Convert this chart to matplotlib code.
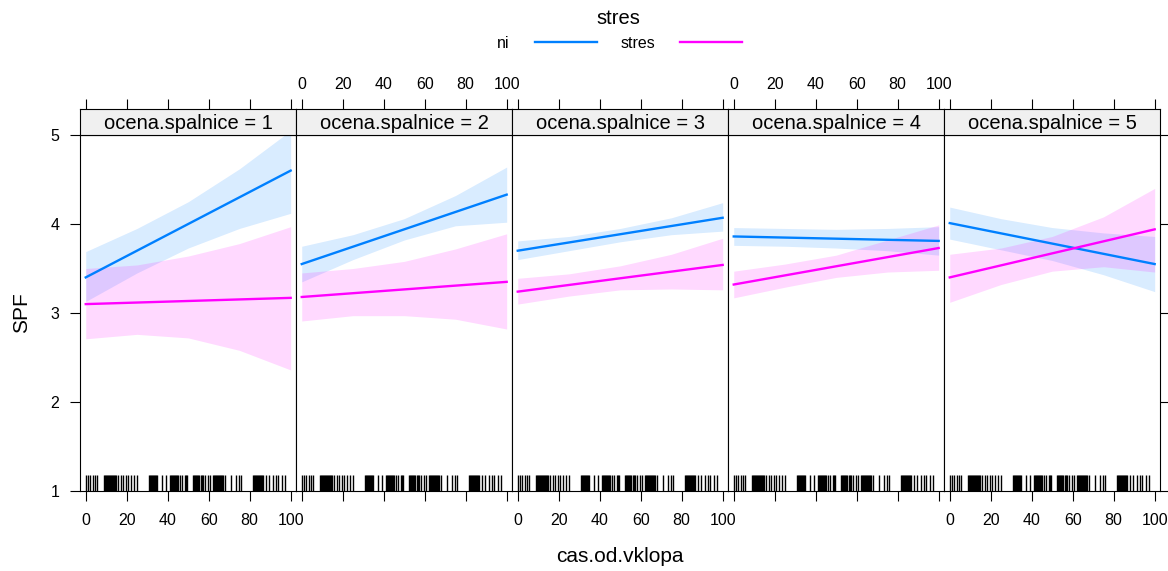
import matplotlib
matplotlib.use("Agg")
import matplotlib.pyplot as plt
from matplotlib.lines import Line2D

plt.rcParams['font.family'] = ['Liberation Sans', 'DejaVu Sans']

# effect of cas.od.vklopa on SPF, by ocena.spalnice and stres
panels = ["ocena.spalnice = 1", "ocena.spalnice = 2", "ocena.spalnice = 3",
          "ocena.spalnice = 4", "ocena.spalnice = 5"]
band_x = [0, 25, 50, 75, 100]
line_x = [0, 100]

ni_fit = [[3.40, 4.60], [3.55, 4.33], [3.70, 4.07], [3.86, 3.81], [4.01, 3.55]]
ni_lo = [[3.13, 3.45, 3.73, 3.95, 4.12],
         [3.35, 3.60, 3.82, 3.98, 4.02],
         [3.60, 3.70, 3.80, 3.88, 3.92],
         [3.76, 3.75, 3.73, 3.70, 3.65],
         [3.83, 3.71, 3.59, 3.43, 3.24]]
ni_hi = [[3.69, 3.95, 4.25, 4.62, 5.05],
         [3.75, 3.88, 4.06, 4.32, 4.64],
         [3.81, 3.86, 3.95, 4.07, 4.24],
         [3.96, 3.95, 3.94, 3.95, 3.97],
         [4.19, 4.06, 3.96, 3.90, 3.86]]

stres_fit = [[3.10, 3.17], [3.18, 3.35], [3.24, 3.54], [3.32, 3.73], [3.40, 3.94]]
stres_lo = [[2.71, 2.76, 2.72, 2.58, 2.36],
            [2.91, 2.97, 2.97, 2.93, 2.82],
            [3.10, 3.19, 3.26, 3.27, 3.26],
            [3.17, 3.29, 3.40, 3.46, 3.48],
            [3.12, 3.32, 3.47, 3.52, 3.46]]
stres_hi = [[3.50, 3.54, 3.64, 3.78, 3.97],
            [3.45, 3.50, 3.58, 3.72, 3.89],
            [3.39, 3.44, 3.53, 3.66, 3.84],
            [3.47, 3.55, 3.65, 3.82, 3.99],
            [3.66, 3.73, 3.86, 4.08, 4.40]]

# rug of observed cas.od.vklopa (same in every panel)
rug = [0, 1, 2.3, 3.3, 4.4, 5.5, 9, 9.5, 10, 10.5, 11, 11.5, 12, 12.5, 13, 13.5,
       14, 14.5, 15, 15.5, 17, 18.2, 19.5, 20.7, 22.1, 23.4, 25.2, 31, 31.5, 32,
       32.5, 33, 33.5, 34, 34.5, 35, 37, 39, 41, 41.5, 42, 42.5, 43, 43.5, 44,
       44.5, 45, 45.8, 47.2, 48.3, 49, 49.6, 52.3, 53, 53.5, 54, 54.5, 55, 55.5,
       56, 56.5, 57.2, 58, 59.7, 60.8, 62.1, 62.5, 63, 63.5, 64, 64.5, 65, 65.5,
       66, 66.5, 67, 68.1, 71, 73.5, 74.6, 75.9, 81.6, 82, 82.5, 83, 83.5, 84,
       84.5, 85, 85.5, 86, 86.5, 87.8, 89.4, 91.4, 92.7, 93.8, 95.9, 97.1]

xticks = [0, 20, 40, 60, 80, 100]
yticks = [1, 2, 3, 4, 5]

blue = "#0080ff"
pink = "#ff00ff"

W, H = 1168, 571
fig = plt.figure(figsize=(W / 100, H / 100), dpi=100)


def box(x0, y0, x1, y1):
    # pixel box -> figure rect
    return [x0 / W, 1 - y1 / H, (x1 - x0) / W, (y1 - y0) / H]


left, pw = 80, 216
top, bottom, strip_top = 135, 491, 109

for i in range(5):
    x0 = left + i * pw
    ax = fig.add_axes(box(x0, top, x0 + pw, bottom))
    ax.fill_between(band_x, ni_lo[i], ni_hi[i], color=blue, alpha=0.15, lw=0)
    ax.fill_between(band_x, stres_lo[i], stres_hi[i], color=pink, alpha=0.15, lw=0)
    ax.plot(line_x, ni_fit[i], color=blue, lw=1.7)
    ax.plot(line_x, stres_fit[i], color=pink, lw=1.7)
    ax.vlines(rug, 1, 1.18, color="black", lw=1.0)
    ax.set_xlim(-2.8, 102.6)
    ax.set_ylim(1, 5)
    for s in ax.spines.values():
        s.set_linewidth(0.8)

    ax.set_xticks(xticks)
    ax.tick_params(axis='x', direction='out', length=7, width=0.8,
                   labelsize=11.5, pad=9, labelbottom=(i % 2 == 0))
    if i == 0:
        ax.set_yticks(yticks)
        ax.tick_params(axis='y', direction='out', length=7, width=0.8,
                       labelsize=11.5, pad=8)
    elif i == 4:
        ax.set_yticks(yticks)
        ax.tick_params(axis='y', left=False, labelleft=False, right=True,
                       direction='out', length=7, width=0.8)
    else:
        ax.set_yticks([])

    # strip with the top axis above it
    sax = fig.add_axes(box(x0, strip_top, x0 + pw, top), sharex=ax)
    sax.set_facecolor("#f0f0f0")
    sax.set_yticks([])
    for s in sax.spines.values():
        s.set_linewidth(0.8)
    sax.tick_params(axis='x', bottom=False, labelbottom=False, top=True,
                    labeltop=(i % 2 == 1), direction='out', length=7,
                    width=0.8, labelsize=11.5, pad=5.5)
    sax.text(0.5, 0.45, panels[i], transform=sax.transAxes, ha='center',
             va='center', fontsize=14.5)

fig.text(620 / W, 1 - 557 / H, "cas.od.vklopa", ha='center', va='center', fontsize=15)
fig.text(22 / W, 1 - 313 / H, "SPF", ha='center', va='center', rotation=90, fontsize=15)

# legend on top
fig.text(618 / W, 1 - 19 / H, "stres", ha='center', va='center', fontsize=14.5)
fig.text(503 / W, 1 - 44 / H, "ni", ha='center', va='center', fontsize=11.5)
fig.text(638 / W, 1 - 44 / H, "stres", ha='center', va='center', fontsize=11.5)
fig.add_artist(Line2D([535 / W, 597 / W], [1 - 42 / H, 1 - 42 / H], color=blue, lw=1.7))
fig.add_artist(Line2D([680 / W, 742 / W], [1 - 42 / H, 1 - 42 / H], color=pink, lw=1.7))

fig.savefig("out.png", dpi=100)
